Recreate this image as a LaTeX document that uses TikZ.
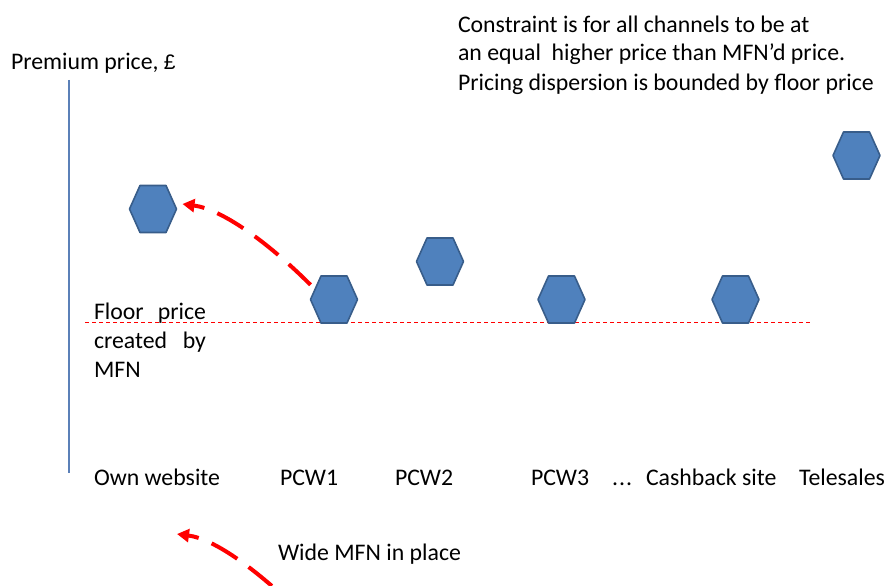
\documentclass[tikz,border=0pt]{standalone}
\usepackage{fontspec}
\setmainfont{Carlito}
\newfontfamily\poundfont{Liberation Sans}
\usetikzlibrary{arrows.meta}
\definecolor{hexfill}{HTML}{4F81BD}
\definecolor{hexline}{HTML}{385D8A}
\definecolor{axisblue}{HTML}{5B80B8}
% hexagon drawn inside a (invisible) square node, flat top and bottom
\newcommand{\hexat}[1]{%
  \draw[fill=hexfill, draw=hexline, line width=1.6pt, line join=round]
    (#1.west) -- ([xshift=10.5pt]#1.north west) -- ([xshift=-10.5pt]#1.north east)
    -- (#1.east) -- ([xshift=-10.5pt]#1.south east) -- ([xshift=10.5pt]#1.south west) -- cycle;}
\begin{document}
\begin{tikzpicture}[x=1pt, y=-1pt,
  every node/.style={inner sep=0pt, outer sep=0pt, font=\fontsize{23.8}{29}\selectfont},
  lbl/.style={anchor=base west},
  hexslot/.style={rectangle, minimum width=47pt, minimum height=47pt},
  mfnarrow/.style={red, line width=4pt, dash pattern=on 30pt off 14pt,
                   -{Triangle[length=12pt, width=13pt]}},
  floorline/.style={red, line width=0.9pt, dash pattern=on 4pt off 3pt}]
\clip (0,0) rectangle (889,586);
\useasboundingbox (0,0) rectangle (889,586);

% price axis
\coordinate (axtop) at (69,80);
\coordinate (axbot) at (69,473);
\draw[axisblue, line width=1.1pt] (axtop) -- (axbot);
\node[lbl] (ylab) at (11,70) {Premium price, {\poundfont\fontsize{21}{29}\selectfont £}};

% floor price created by MFN
\coordinate (fl) at (85,322.5);
\coordinate (fr) at (812,322.5);
\draw[floorline] (fl) -- (fr);

% channel prices
\node[hexslot] (ow)   at (153,209)   {};
\node[hexslot] (pcw1) at (334,299.5) {};
\node[hexslot] (pcw2) at (440,261.5) {};
\node[hexslot] (pcw3) at (561.5,299.5) {};
\node[hexslot] (cb)   at (735.5,299.5) {};
\node[hexslot] (tel)  at (856.5,155.5) {};
\hexat{ow}\hexat{pcw1}\hexat{pcw2}\hexat{pcw3}\hexat{cb}\hexat{tel}

% price moves up from PCW1 to own website
\draw[mfnarrow] (pcw1.148) .. controls +(-45,-45) and +(38,5) .. ([xshift=6pt]ow.12);

% channel labels
\node[lbl] (l1) at (94,485)  {Own website};
\node[lbl] (l2) at (280,485) {PCW1};
\node[lbl] (l3) at (395,485) {PCW2};
\node[lbl] (l4) at (531,485) {PCW3};
\node[lbl] (l5) at (612,485) {.\kern1pt.\kern1pt.};
\node[lbl] (l6) at (646,485) {Cashback site};
\node[lbl] (l7) at (799,485) {Telesales};

% floor note (base anchor sits on the last line)
\node[lbl, align=left] (floornote) at (94,377)
  {\makebox[112pt][s]{Floor price}\\ \makebox[112pt][s]{created by}\\ MFN};

% constraint note (base anchor sits on the last line)
\node[lbl, align=left] (constraint) at (458,90)
  {Constraint is for all channels to be at\\
   an equal~ higher price than MFN’d price.\\
   Pricing dispersion is bounded by floor price};

% legend
\coordinate (lgs) at (304,616);
\coordinate (lge) at (177,534);
\draw[mfnarrow] (lgs) .. controls +(-45,-45) and +(38,5) .. (lge);
\node[lbl] (lgtext) at (278,560) {Wide MFN in place};
\end{tikzpicture}
\end{document}
